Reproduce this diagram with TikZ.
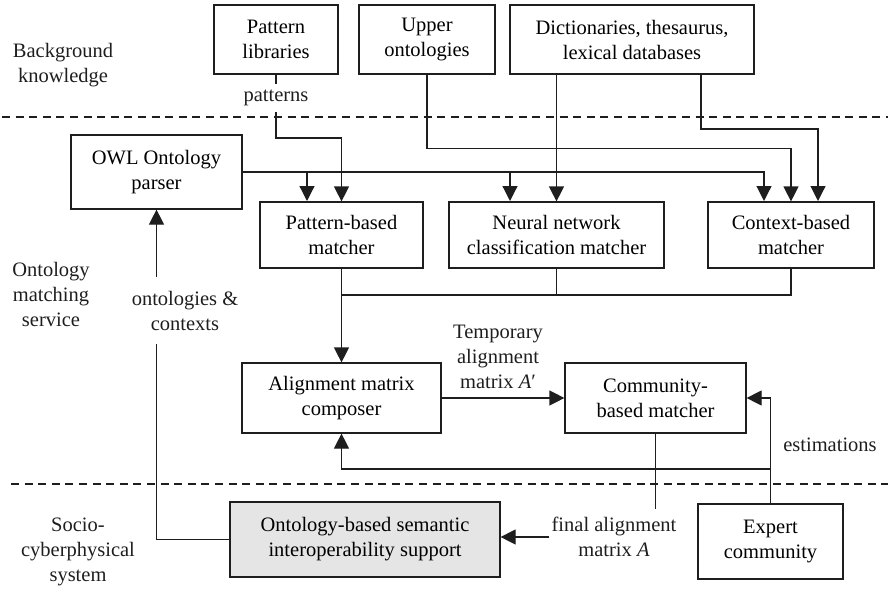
\documentclass[tikz,border=0pt]{standalone}
\usepackage{fontspec}
\setmainfont{Liberation Serif}
\newfontfamily\diagfont{Liberation Serif}
\usetikzlibrary{arrows.meta}
\definecolor{boxgray}{RGB}{229,229,229}
\definecolor{ink}{RGB}{30,30,30}
\tikzset{
  box/.style={draw=ink, line width=1.2pt, inner sep=0pt, align=center, font=\diagfont\fontsize{20.5}{25}\selectfont},
  lbl/.style={inner sep=2pt, align=center, font=\diagfont\fontsize{20.5}{25}\selectfont, text=ink},
  conn/.style={draw=ink, line width=1.2pt},
  arr/.style={conn, -{Triangle[length=15pt,width=15pt]}},
  sep/.style={draw=ink, line width=1.4pt, dash pattern=on 8pt off 5.6pt}
}
\begin{document}
\begin{tikzpicture}[x=1pt,y=-1pt]
\useasboundingbox (0,0) rectangle (888,591);
% separators
\draw[sep] (2,117) -- (888,117);
\draw[sep] (11,484) -- (888,484);
% region labels
\node[lbl] (bk) at (63,65) {Background\\knowledge};
\node[lbl] (oms) at (51,294) {Ontology\\matching\\service};
\node[lbl] (scs) at (78,552) {Socio-\\cyberphysical\\system};
% boxes
\node[box, minimum width=124pt, minimum height=69pt] (patlib) at (276,39.5) {Pattern\\libraries};
\node[box, minimum width=136pt, minimum height=69pt] (upper) at (427,39.5) {Upper\\ontologies};
\node[box, minimum width=244pt, minimum height=69pt] (dict) at (632,39.5) {Dictionaries, thesaurus,\\lexical databases};
\node[box, minimum width=171pt, minimum height=74pt] (owl) at (156.5,172) {OWL Ontology\\parser};
\node[box, minimum width=163pt, minimum height=66pt] (patm) at (341.5,235) {Pattern-based\\matcher};
\node[box, minimum width=215pt, minimum height=66pt] (neural) at (556.5,235) {Neural network\\classification matcher};
\node[box, minimum width=166pt, minimum height=66pt] (context) at (791,235) {Context-based\\matcher};
\node[box, minimum width=199pt, minimum height=70pt] (align) at (341.5,398) {Alignment matrix\\composer};
\node[box, minimum width=181pt, minimum height=70pt] (comm) at (655.5,398) {Community-\\based matcher};
\node[box, fill=boxgray, minimum width=270pt, minimum height=75pt] (osis) at (365,539.5) {Ontology-based semantic\\interoperability support};
\node[box, minimum width=145pt, minimum height=75pt] (expert) at (770.5,541.5) {Expert\\community};
% connector labels
\node[lbl] (patterns) at (276,98) {patterns};
\node[lbl] (ontctx) at (185,311) {ontologies \&\\contexts};
\node[lbl] (temp) at (498,357) {Temporary\\alignment\\matrix \textit{A}′};
\node[lbl] (estim) at (830,445) {estimations};
\node[lbl] (final) at (614,537) {final alignment\\matrix \textit{A}};
% junction coordinates
\coordinate (pt1) at (276,84);
\coordinate (pt2) at (276,112);
\coordinate (c1) at (764,201);
\coordinate (c3) at (818,201);
\coordinate (p1) at (307,201);
\coordinate (n1) at (510,201);
\coordinate (d2) at (701,74);
\coordinate (j) at (341.5,295);
\coordinate (b1) at (770.5,469);
\coordinate (o1) at (156.5,277);
\coordinate (o2) at (156.5,344);
\coordinate (f1) at (655.5,509);
% background knowledge feeds
\draw[conn] (patlib.south) -- (pt1);
\draw[arr] (pt2) -- ++(0,26) -| (patm.north);
\draw[arr] (upper.south) -- ++(0,74) -| (context.north);
\draw[arr] (neural.north |- dict.south) -- (neural.north);
\draw[arr] (d2) -- ++(0,55) -| (c3);
% OWL parser feeds
\draw[arr] (owl.east) -| (c1);
\draw[arr] (p1 |- owl.east) -- (p1);
\draw[arr] (n1 |- owl.east) -- (n1);
% matchers to composer
\draw[conn] (context.south) |- (j);
\draw[conn] (neural.south) -- (neural.south |- j);
\draw[arr] (patm.south) -- (align.north);
% composer to community
\draw[arr] (align.east) -- (comm.west);
% expert estimations
\draw[arr] (expert.north) |- (comm.east);
\draw[arr] (b1) -| (align.south);
% final alignment
\draw[conn] (comm.south) -- (f1);
\draw[arr] (final.west) -- (final.west -| osis.east);
% ontologies & contexts
\draw[arr] (o1) -- (owl.south);
\draw[conn] (o2) |- (osis.west);
\end{tikzpicture}
\end{document}
